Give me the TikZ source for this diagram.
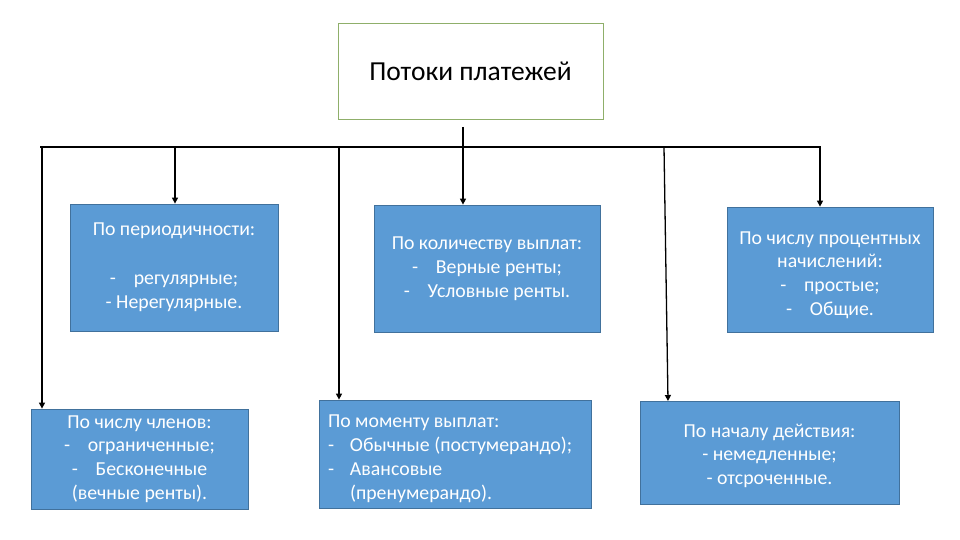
\documentclass[tikz,border=0pt]{standalone}
\usepackage{fontspec}
\setmainfont{Carlito}
\usetikzlibrary{arrows.meta}
\definecolor{boxblue}{HTML}{5B9BD5}
\definecolor{boxedge}{HTML}{41719C}
\definecolor{topedge}{HTML}{8FAF6A}
\begin{document}
\begin{tikzpicture}[x=1pt,y=-1pt,
  cat/.style={draw=boxedge,line width=0.8pt,fill=boxblue,text=white,inner sep=0pt,
    font=\fontsize{19.8}{23.8}\selectfont,align=center},
  topbox/.style={draw=topedge,line width=0.8pt,fill=white,inner sep=0pt,
    font=\fontsize{27.5}{30}\selectfont},
  wire/.style={line width=1.3pt,black},
  arr/.style={wire,-{Triangle[length=6pt,width=6pt]}}]
\useasboundingbox (0,0) rectangle (960,540);
\node[topbox,minimum width=265pt,minimum height=96pt] (top) at (470.5,71) {Потоки платежей};
\node[cat,minimum width=208pt,minimum height=127pt] (b1) at (174,267.5)
  {По периодичности:\\[25pt]-\hspace{0.9em}регулярные;\\- Нерегулярные.};
\node[cat,minimum width=226pt,minimum height=127pt] (b2) at (487,268.5)
  {По количеству выплат:\\-\hspace{0.9em}Верные ренты;\\-\hspace{0.9em}Условные ренты.};
\node[cat,minimum width=206pt,minimum height=125pt] (b3) at (830,269.5)
  {\rule{0pt}{24pt}По числу процентных\\начислений:\\-\hspace{0.9em}простые;\\-\hspace{0.9em}Общие.};
\node[cat,minimum width=217pt,minimum height=100pt] (b4) at (139.5,459)
  {По числу членов:\\-\hspace{0.9em}ограниченные;\\-\hspace{0.9em}Бесконечные\\(вечные ренты).};
\node[cat,minimum width=272pt,minimum height=108pt,text width=254pt,align=flush left] (b5) at (455,454)
  {\rule{0pt}{22pt}По моменту выплат:\\\makebox[22pt][l]{-}Обычные (постумерандо);\\\makebox[22pt][l]{-}Авансовые\\\hspace*{22pt}(пренумерандо).};
\node[cat,minimum width=259pt,minimum height=103pt] (b6) at (769.5,452.5)
  {\rule{0pt}{20pt}По началу действия:\\- немедленные;\\- отсроченные.};
\coordinate (busL) at (40,147);
\coordinate (busR) at (821,147);
\coordinate (stem) at (463,127);
\draw[wire] (stem) -- (stem |- busL);
\draw[wire] (busL) -- (busR);
\draw[arr] (42,147) -- (b4.north -| 42,0);
\draw[arr] (175,147) -- (b1.north -| 175,0);
\draw[arr] (339,147) -- (b5.north -| 339,0);
\draw[arr] (463,147) -- (b2.north -| 463,0);
\draw[arr] (664,147) -- (668,401);
\draw[arr] (820,147) -- (b3.north -| 820,0);
\end{tikzpicture}
\end{document}
